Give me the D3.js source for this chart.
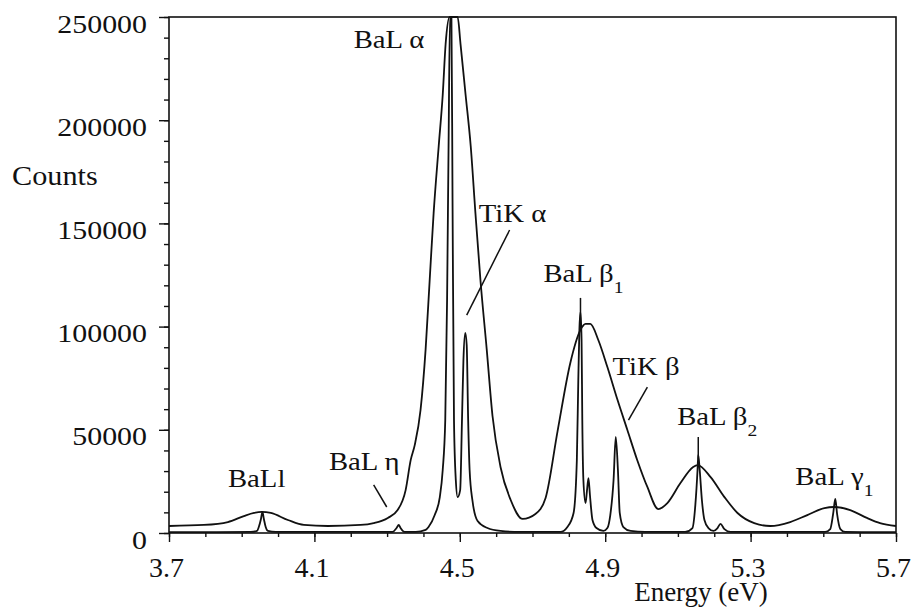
<!DOCTYPE html>
<html>
<head>
<meta charset="utf-8">
<script src="https://cdn.jsdelivr.net/npm/d3@7"></script>
<style>
  body { margin: 0; background: #fff; }
  svg { display: block; }
  svg text { font-family: "Liberation Serif", "Times New Roman", serif; }
  .tick line { stroke: #111; stroke-width: 1.4; }
  .domain { stroke: none; }
</style>
</head>
<body>
<div id="chart"></div>
<script>
// Tick labels
var xTicks = [3.7, 4.1, 4.5, 4.9, 5.3, 5.7];
var yTicks = [0, 50000, 100000, 150000, 200000, 250000];

// Broad (low resolution) spectrum
var energyBroad = [3.700, 3.796, 3.862, 3.906, 3.934, 3.955, 3.980, 4.027, 4.071, 4.137, 4.227, 4.263, 4.302, 4.329, 4.351, 4.365, 4.376, 4.392, 4.406, 4.417, 4.428, 4.442, 4.453, 4.461, 4.472, 4.483, 4.494, 4.502, 4.516, 4.530, 4.543, 4.557, 4.574, 4.590, 4.612, 4.640, 4.673, 4.708, 4.736, 4.769, 4.804, 4.832, 4.846, 4.859, 4.881, 4.906, 4.934, 4.961, 4.988, 5.016, 5.046, 5.071, 5.107, 5.142, 5.154, 5.190, 5.228, 5.264, 5.310, 5.354, 5.409, 5.456, 5.503, 5.530, 5.574, 5.620, 5.656, 5.700];
var countsBroad = [3400, 3900, 5300, 8200, 9700, 10200, 9700, 6300, 3900, 3400, 3900, 4800, 7300, 11100, 20800, 35400, 42600, 59600, 89100, 122100, 155000, 187500, 212200, 236900, 250000, 250000, 250000, 236900, 212200, 187500, 155000, 122100, 89100, 56700, 32000, 16000, 6800, 9200, 17000, 49400, 82400, 98400, 101300, 101300, 93500, 80400, 64400, 49900, 35400, 22300, 11600, 14500, 24200, 32000, 32900, 27100, 17400, 9700, 4800, 3400, 5300, 8700, 12100, 12600, 11100, 7300, 4800, 3400];

// Narrow (high resolution) spectrum
var energyNarrow = [3.700, 3.925, 3.942, 3.947, 3.953, 3.957, 3.961, 3.966, 3.972, 3.994, 4.315, 4.326, 4.332, 4.337, 4.348, 4.379, 4.406, 4.414, 4.431, 4.445, 4.453, 4.460, 4.465, 4.469, 4.473, 4.477, 4.480, 4.484, 4.489, 4.494, 4.501, 4.506, 4.510, 4.515, 4.519, 4.523, 4.527, 4.535, 4.549, 4.576, 4.612, 4.667, 4.777, 4.796, 4.813, 4.822, 4.826, 4.829, 4.832, 4.835, 4.837, 4.840, 4.846, 4.850, 4.854, 4.858, 4.865, 4.876, 4.895, 4.906, 4.914, 4.923, 4.929, 4.935, 4.940, 4.950, 4.970, 5.010, 5.120, 5.140, 5.148, 5.154, 5.156, 5.160, 5.166, 5.173, 5.184, 5.198, 5.209, 5.217, 5.228, 5.245, 5.505, 5.519, 5.527, 5.533, 5.538, 5.547, 5.560, 5.700];
var countsNarrow = [400, 500, 1000, 2900, 6800, 10200, 6800, 2900, 1000, 500, 500, 2400, 3900, 2400, 500, 500, 1500, 2900, 8700, 17400, 30500, 54700, 112900, 185600, 250000, 250000, 161300, 54700, 25700, 17400, 20800, 54700, 83800, 96900, 91100, 54700, 30500, 15500, 5800, 2400, 1000, 500, 500, 2900, 9700, 35400, 74100, 98400, 107100, 93500, 54700, 25700, 14500, 20800, 26600, 18400, 6300, 2400, 1000, 2400, 8700, 25700, 46500, 30500, 9700, 2900, 1000, 500, 500, 2400, 13600, 30500, 37800, 30500, 16000, 6300, 2400, 1000, 2400, 4400, 1900, 500, 500, 1900, 9200, 16500, 9200, 1900, 500, 400];

// Peak labels (anchor in energy / counts)
var peakNames = ["BaLl", "BaL η", "BaL α", "TiK α", "BaL β", "TiK β", "BaL β", "BaL γ"];
var peakSubs = ["", "", "", "", "1", "", "2", "1"];
var labelEnergy = [3.862, 4.140, 4.208, 4.552, 4.730, 4.920, 5.098, 5.423];
var labelCounts = [22300, 30500, 235000, 150700, 121600, 76500, 52300, 23300];

// Leader lines [e1, c1, e2, c2]
var leaders = [
  [4.263, 23300, 4.299, 12600],
  [4.637, 146800, 4.519, 105600],
  [4.832, 113900, 4.832, 100000],
  [5.016, 70700, 4.964, 54700],
  [5.156, 46500, 5.156, 36000]
];

var W = 911, H = 607;
var plotLeft = 169, plotRight = 896, plotTop = 17, plotBottom = 533;

var svg = d3.select("#chart").append("svg")
  .attr("width", W)
  .attr("height", H);

svg.append("rect").attr("width", W).attr("height", H).attr("fill", "#fff");

var x = d3.scaleLinear().domain([3.7, 5.7]).range([plotLeft, plotRight]);
var y = d3.scaleLinear().domain([0, 250000]).range([plotBottom, plotTop]);

// clip for the traces
svg.append("clipPath").attr("id", "plotclip")
  .append("rect")
  .attr("x", plotLeft).attr("y", plotTop - 1)
  .attr("width", plotRight - plotLeft).attr("height", plotBottom - plotTop + 1);

// frame
svg.append("rect")
  .attr("x", plotLeft).attr("y", plotTop)
  .attr("width", plotRight - plotLeft).attr("height", plotBottom - plotTop)
  .attr("fill", "none")
  .attr("stroke", "#111")
  .attr("stroke-width", 1.6);

// Y axis, major + minor ticks
var yAxis = svg.append("g")
  .attr("transform", "translate(" + plotLeft + ",0)")
  .call(d3.axisLeft(y).tickValues(yTicks).tickSize(10).tickFormat(d3.format("d")));
yAxis.attr("font-family", null);
yAxis.selectAll("text")
  .attr("x", 0)
  .attr("dy", null)
  .attr("y", 15)
  .attr("transform", "translate(-22,0) scale(1.15,1)")
  .style("font-size", "26px")
  .attr("fill", "#111");

svg.append("g")
  .attr("transform", "translate(" + plotLeft + ",0)")
  .call(d3.axisLeft(y).tickValues(d3.range(0, 250001, 10000)).tickSize(5).tickFormat(""));

// X axis, major and minor ticks both pointing down
var xAxis = svg.append("g")
  .attr("transform", "translate(0," + plotBottom + ")")
  .call(d3.axisBottom(x).tickValues(xTicks).tickSize(9).tickFormat(d3.format(".1f")));
xAxis.attr("font-family", null);
xAxis.selectAll("text")
  .attr("dy", null)
  .attr("y", 44)
  .attr("x", -3)
  .style("font-size", "28px")
  .attr("fill", "#111");

svg.append("g")
  .attr("transform", "translate(0," + plotBottom + ")")
  .call(d3.axisBottom(x).tickValues(d3.range(37, 58).map(function (d) { return d / 10; })).tickSize(4).tickFormat(""));

// axis titles
svg.append("text")
  .attr("transform", "translate(12,185) scale(1.12,1)")
  .style("font-size", "27px")
  .attr("fill", "#111")
  .text("Counts");

svg.append("text")
  .attr("x", 701).attr("y", 601)
  .attr("text-anchor", "middle")
  .style("font-size", "27px")
  .attr("fill", "#111")
  .text("Energy (eV)");

// traces
var line = d3.line()
  .x(function (d) { return x(d[0]); })
  .y(function (d) { return y(d[1]); })
  .curve(d3.curveMonotoneX);

var traces = svg.append("g").attr("clip-path", "url(#plotclip)");

traces.append("path")
  .datum(d3.zip(energyBroad, countsBroad))
  .attr("d", line)
  .attr("fill", "none")
  .attr("stroke", "#111")
  .attr("stroke-width", 1.8)
  .attr("stroke-linejoin", "round");

traces.append("path")
  .datum(d3.zip(energyNarrow, countsNarrow))
  .attr("d", line)
  .attr("fill", "none")
  .attr("stroke", "#111")
  .attr("stroke-width", 1.8)
  .attr("stroke-linejoin", "round");

// leader lines
svg.selectAll(".leader")
  .data(leaders)
  .enter()
  .append("line")
  .attr("class", "leader")
  .attr("x1", function (d) { return x(d[0]); })
  .attr("y1", function (d) { return y(d[1]); })
  .attr("x2", function (d) { return x(d[2]); })
  .attr("y2", function (d) { return y(d[3]); })
  .attr("stroke", "#111")
  .attr("stroke-width", 1.5);

// peak labels
var labels = svg.selectAll(".peak")
  .data(d3.range(peakNames.length))
  .enter()
  .append("text")
  .attr("class", "peak")
  .attr("transform", function (i) {
    return "translate(" + x(labelEnergy[i]) + "," + y(labelCounts[i]) + ") scale(1.15,1)";
  })
  .style("font-size", "25px")
  .attr("fill", "#111");

labels.append("tspan").text(function (i) { return peakNames[i]; });
labels.append("tspan")
  .attr("dy", 11)
  .style("font-size", "17px")
  .text(function (i) { return peakSubs[i]; });
</script>
</body>
</html>
